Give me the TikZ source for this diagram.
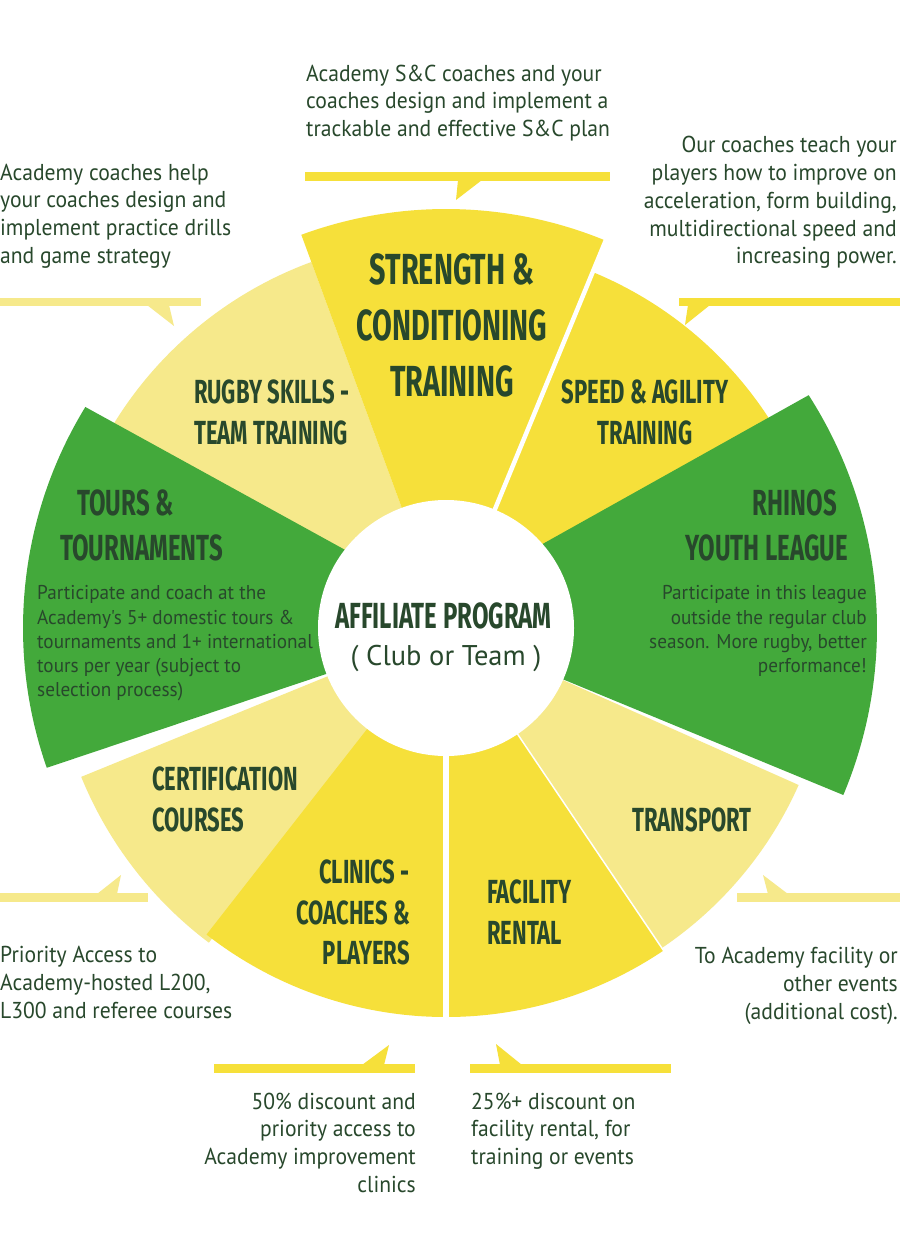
\documentclass[tikz,border=0pt]{standalone}
\usepackage{fontspec}
\setmainfont{PT Sans}
\newfontfamily\headfont{Fira Sans}[FakeStretch=0.66]
\newfontfamily\bodyfont{PT Sans}[FakeStretch=0.94]
\newfontfamily\descfont{PT Sans}[FakeStretch=0.96]
\usetikzlibrary{calc}
\definecolor{brite}{RGB}{246,224,58}
\definecolor{pale}{RGB}{246,233,139}
\definecolor{leaf}{RGB}{67,169,59}
\definecolor{ink}{RGB}{40,72,44}

\begin{document}
\begin{tikzpicture}[x=1pt, y=1pt,
  head/.style={font=\headfont\bfseries\fontsize{43.5}{56}\selectfont,
               text=ink, inner sep=0, align=center},
  big/.style={font=\headfont\bfseries\fontsize{36.3}{45}\selectfont,
              text=ink, inner sep=0},
  sub/.style={font=\headfont\bfseries\fontsize{33.4}{40.5}\selectfont,
              text=ink, inner sep=0},
  note/.style={font=\bodyfont\fontsize{23}{27.7}\selectfont,
               text=ink, inner sep=0},
  desc/.style={font=\descfont\fontsize{20}{24.2}\selectfont,
               text=ink, inner sep=0}]
  \useasboundingbox (0,0) rectangle (900,-1260);
  \fill[white] (0,0) rectangle (900,-1260);
  \coordinate (C) at (446,-628);

  \fill[pale] (C) -- ++(110.2:390) arc[start angle=110.2, end angle=152, radius=390] -- cycle;
  \fill[pale] (C) -- ++(202.2:394) arc[start angle=202.2, end angle=233, radius=394] -- cycle;
  \fill[pale] (C) -- ++(304:386) arc[start angle=304, end angle=336, radius=386] -- cycle;
  \fill[brite] (C) -- ++(67.6:419) arc[start angle=67.6, end angle=110.2, radius=419] -- cycle;
  \fill[brite] (C) -- ++(25:385) arc[start angle=25, end angle=67.6, radius=385] -- cycle;
  \fill[brite] (C) -- ++(232:389) arc[start angle=232, end angle=270, radius=389] -- cycle;
  \fill[brite] (C) -- ++(270:389) arc[start angle=270, end angle=304, radius=389] -- cycle;
  \fill[leaf] (478,-623) -- ($(C)+(148.5:423)$) arc[start angle=148.5, end angle=199.3, radius=423] -- cycle;
  \fill[leaf] (412,-617) -- ($(C)+(32.7:431)$) arc[start angle=32.7, end angle=-22.8, radius=431] -- cycle;
  \draw[white, line width=4.5pt] (C) -- ++(67.6:430);
  \draw[white, line width=6pt] (C) -- ++(270:400);
  \draw[white, line width=1.5pt] (C) -- ++(304:400);
  \node[circle, fill=white, minimum size=256pt, inner sep=0] (hub) at (C) {};

  \node[big, anchor=base] (affil) at (443.5,-628) {AFFILIATE PROGRAM};
  \node[font=\fontsize{28.5}{34}\selectfont, text=ink, inner sep=0,
        anchor=base] (club) at (446,-665) {( Club or Team )};

  \node[head, anchor=north] (strength) at (452,-253) {STRENGTH \&\\CONDITIONING\\TRAINING};
  \node[sub, anchor=north west, align=left] (rugby) at (194,-380) {RUGBY SKILLS -\\TEAM TRAINING};
  \node[sub, anchor=north, align=center] (speed) at (645,-380) {SPEED \& AGILITY\\TRAINING};
  \node[big, anchor=north west, align=left] (tours) at (60,-490) {\hspace*{17pt}TOURS \&\\TOURNAMENTS};
  \node[big, anchor=north east, align=right] (rhinos) at (848,-490) {RHINOS\hspace*{11pt}\\YOUTH LEAGUE};
  \node[sub, anchor=north west, align=left] (cert) at (152,-767) {CERTIFICATION\\COURSES};
  \node[sub, anchor=north east, align=right] (clinics) at (410,-860) {CLINICS -\\COACHES \&\\PLAYERS};
  \node[sub, anchor=north west, align=left] (facility) at (487,-880) {FACILITY\\RENTAL};
  \node[sub, anchor=north] (transport) at (692,-808) {TRANSPORT};

  \node[desc, anchor=north west, align=left] (toursdesc) at (37,-585.6)
    {Participate and coach at the\\Academy's 5+ domestic tours \&\\tournaments and 1+ international\\tours per year (subject to\\selection process)};
  \node[desc, anchor=north east, align=right] (rhinosdesc) at (867,-585.6)
    {Participate in this league\\outside the regular club\\season. More rugby, better\\performance!};

  \fill[brite] (305,-172) rectangle (610,-181);
  \fill[brite] (458,-180) -- (482,-180) -- (456,-200) -- cycle;
  \node[note, anchor=north west, align=left] (scnote) at (306,-64.5)
    {Academy S\&C coaches and your\\coaches design and implement a\\trackable and effective S\&C plan};

  \fill[pale] (0,-298) rectangle (201,-306);
  \fill[pale] (147,-305) -- (169,-305) -- (174,-326) -- cycle;
  \node[note, anchor=north west, align=left] (rugbynote) at (0,-163.5)
    {Academy coaches help\\your coaches design and\\implement practice drills\\and game strategy};

  \fill[brite] (679,-298) rectangle (900,-306);
  \fill[brite] (688,-305) -- (710,-305) -- (685,-325) -- cycle;
  \node[note, anchor=north east, align=right] (speednote) at (897,-136.4)
    {Our coaches teach your\\players how to improve on\\acceleration, form building,\\multidirectional speed and\\increasing power.};

  \fill[pale] (0,-893) rectangle (148,-902);
  \fill[pale] (97,-894) -- (117,-894) -- (121,-875) -- cycle;
  \node[note, anchor=north west, align=left] (certnote) at (0,-946.4)
    {Priority Access to\\Academy-hosted L200,\\L300 and referee courses};

  \fill[brite] (214,-1064) rectangle (415,-1073);
  \fill[brite] (362,-1065) -- (384,-1065) -- (389,-1045) -- cycle;
  \node[note, anchor=north east, align=right] (clinicnote) at (416,-1092.4)
    {50\% discount and\\priority access to\\Academy improvement\\clinics};

  \fill[brite] (470,-1064) rectangle (671,-1073);
  \fill[brite] (500,-1065) -- (522,-1065) -- (496,-1044) -- cycle;
  \node[note, anchor=north west, align=left] (facilnote) at (471,-1092.4)
    {25\%+ discount on\\facility rental, for\\training or events};

  \fill[pale] (737,-893) rectangle (900,-902);
  \fill[pale] (768,-894) -- (788,-894) -- (763,-875) -- cycle;
  \node[note, anchor=north east, align=right] (transnote) at (898,-947.4)
    {To Academy facility or\\other events\\(additional cost).};
\end{tikzpicture}
\end{document}
